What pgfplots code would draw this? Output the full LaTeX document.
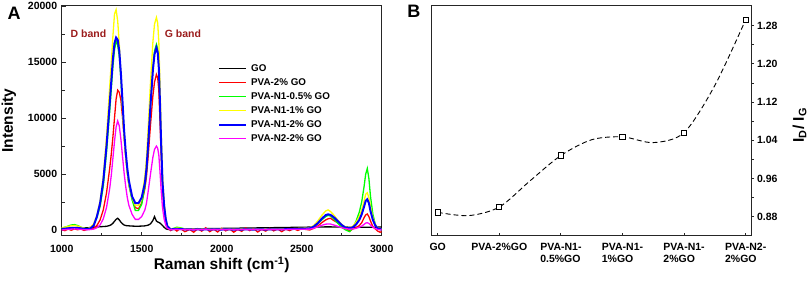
\documentclass[border=0pt]{standalone}
\usepackage{fontspec}
\setmainfont{Liberation Sans}
\usepackage{pgfplots}
\pgfplotsset{compat=1.18}
\usepackage{pgfplotstable}
\definecolor{dred}{HTML}{9B1C1C}
\definecolor{cgreen}{HTML}{00FF00}
\definecolor{cyellow}{HTML}{FFFF00}
\definecolor{cmag}{HTML}{FF00FF}

\pgfplotstableread{
x go p2 n105 n11 n12 n22
1000 150 50 150 200 100 0
1020 140 -60 250 250 120 30
1040 160 80 350 320 150 60
1060 150 -20 450 380 180 80
1080 170 100 480 400 200 100
1100 160 20 400 350 180 80
1120 170 90 250 250 150 60
1140 180 -40 150 150 100 30
1160 200 60 120 100 80 20
1180 220 80 200 250 150 40
1200 250 150 450 550 400 80
1220 270 400 1100 1300 1200 200
1240 290 900 2100 2600 2400 450
1260 310 1800 3900 4800 4400 1000
1280 330 3300 6900 8300 7500 2000
1300 400 5500 10600 12800 11300 3700
1310 480 6800 12600 15000 13300 4900
1320 600 8300 14600 17300 15300 6400
1330 780 10000 16100 19300 16700 7900
1340 950 11700 16900 19700 17200 9200
1350 1050 12500 16500 18700 17000 9750
1360 900 12300 15500 16600 16000 9300
1370 700 11600 13500 13800 14000 8100
1380 550 10100 11000 10700 11500 6600
1390 450 8300 8600 8300 8900 5100
1400 400 6600 6700 6500 7000 3900
1410 380 5200 5200 5100 5500 2900
1420 370 4100 4000 4100 4400 2200
1440 350 2800 2700 2900 3000 1400
1460 340 2000 1750 2200 2400 950
1480 340 1900 1750 2200 2400 950
1500 350 2400 2300 2800 2900 1200
1520 370 3700 3900 4800 4200 1800
1530 400 4800 5300 6400 5500 2400
1540 430 6500 7500 9000 7600 3400
1555 550 9400 11200 13200 11200 5000
1570 850 12000 14500 16800 14300 6500
1580 1200 13200 16000 18400 15700 7200
1592 800 13900 16600 19000 16300 7500
1600 720 13600 16200 18500 15900 7300
1607 680 12500 14800 16800 14500 6700
1614 620 9900 11700 13300 11500 5300
1621 530 6900 8100 9200 8000 3700
1630 400 3700 4300 4900 4300 2000
1640 250 1900 2200 2500 2200 1000
1650 120 850 1000 1100 1000 450
1660 60 300 300 400 350 150
1680 30 -50 80 100 50 30
1700 60 120 150 120 80 50
1720 80 -100 250 180 100 60
1740 90 150 200 150 80 40
1770 100 -150 100 100 60 50
1800 110 50 80 90 50 40
1825 100 -200 60 80 40 30
1850 110 120 80 70 60 50
1875 120 -100 50 90 40 30
1900 120 200 70 80 50 60
1925 130 -150 60 60 40 40
1950 130 80 50 80 60 30
1975 140 -180 60 70 50 50
2000 140 150 70 80 40 40
2025 150 -80 60 70 60 30
2050 150 100 50 80 50 50
2075 160 -200 60 60 40 40
2100 160 50 70 70 50 30
2125 170 -120 50 80 40 50
2150 170 180 60 60 60 40
2175 180 -60 70 80 50 30
2200 180 120 50 70 40 50
2225 190 -180 60 80 60 40
2250 190 60 70 60 50 30
2275 200 -100 60 80 40 50
2300 200 150 50 70 60 40
2325 210 -80 70 90 50 40
2350 210 100 60 80 60 50
2375 220 -150 80 100 60 40
2400 220 80 70 90 70 50
2425 230 -60 90 110 80 60
2450 240 120 80 120 90 60
2475 240 -40 100 140 100 70
2500 250 100 100 160 120 70
2525 250 50 100 170 130 75
2550 260 0 100 200 150 80
2575 260 150 250 400 300 150
2600 270 350 550 800 600 280
2625 270 650 900 1300 1000 420
2650 280 900 1200 1700 1330 520
2665 280 1000 1300 1800 1400 540
2680 280 1050 1250 1650 1350 530
2700 270 850 1000 1350 1150 450
2725 270 650 600 900 800 330
2750 260 400 250 500 450 200
2775 260 150 0 250 200 120
2800 250 -100 -150 200 150 80
2820 250 100 200 350 250 100
2840 250 200 800 700 500 150
2860 250 400 1600 1200 900 250
2875 250 650 2500 1800 1400 350
2890 250 1100 3900 2600 2100 500
2900 250 1350 5000 3200 2600 620
2910 250 1430 5500 3330 2740 650
2920 250 1200 4600 2900 2400 580
2930 250 800 3000 2100 1700 450
2945 250 300 1400 1100 900 250
2960 250 100 500 500 400 120
2975 260 -100 150 200 150 50
2990 270 -200 50 100 80 20
3000 280 -150 0 80 50 0
}\spectra

\begin{document}
\begin{tikzpicture}
\useasboundingbox (-61.7pt,-48.3pt) rectangle (747.3pt,235.7pt);
\begin{axis}[
  at={(0pt,0pt)}, anchor=south west,
  scale only axis, width=320pt, height=230pt,
  xmin=1000, xmax=3000, ymin=-510, ymax=20050,
  xtick={1000,1500,2000,2500,3000},
  ytick={0,5000,10000,15000,20000},
  minor x tick num=1, minor y tick num=1,
  xtick pos=lower, ytick pos=left,
  tick align=inside,
  scaled ticks=false,
  major tick length=4pt, minor tick length=3pt,
  axis line style={line width=1pt, black!85},
  tick style={black!85, line width=0.8pt},
  /pgf/number format/assume math mode=true,
  /pgf/number format/set thousands separator={},
  ticklabel style={font=\fontsize{10.5}{12}\selectfont\bfseries},
  xticklabel style={yshift=-5.5pt},
  yticklabel style={xshift=-1pt},
  xlabel={Raman shift (cm\textsuperscript{-1})},
  ylabel={Intensity},
  label style={font=\fontsize{15.5}{18}\selectfont\bfseries},
  xlabel style={at={(axis description cs:0.5,-0.127)}, anchor=center},
  ylabel style={at={(axis description cs:-0.165,0.5)}, anchor=center},
  legend style={draw=none, fill=none, inner sep=0pt,
    at={(0.4884,0.7465)}, anchor=north west,
    font=\fontsize{9.8}{11}\selectfont\bfseries,
    nodes={inner sep=0pt, text height=7pt, text depth=2pt},
    row sep=5pt, column sep=4pt},
  legend cell align=left,
  legend image code/.code={\draw[#1] (0pt,0pt) -- (27pt,0pt);},
]
\addplot[black, line width=1.3pt] table[x=x, y=go] {\spectra};
\addlegendentry{GO}
\addplot[red, line width=1.3pt] table[x=x, y=p2] {\spectra};
\addlegendentry{PVA-2\% GO}
\addplot[cgreen, line width=1.3pt] table[x=x, y=n105] {\spectra};
\addlegendentry{PVA-N1-0.5\% GO}
\addplot[cyellow, line width=1.3pt] table[x=x, y=n11] {\spectra};
\addlegendentry{PVA-N1-1\% GO}
\addplot[blue, line width=2pt] table[x=x, y=n12] {\spectra};
\addlegendentry{PVA-N1-2\% GO}
\addplot[cmag, line width=1.3pt] table[x=x, y=n22] {\spectra};
\addlegendentry{PVA-N2-2\% GO}
\node[font=\fontsize{10.5}{12}\selectfont\bfseries, text=dred] at (axis cs:1167,17520) {D band};
\node[font=\fontsize{10.5}{12}\selectfont\bfseries, text=dred] at (axis cs:1758,17520) {G band};
\end{axis}

\begin{axis}[
  at={(370pt,0pt)}, anchor=south west,
  scale only axis, width=319.3pt, height=230pt,
  xmin=-0.097, xmax=5.086, ymin=0.840, ymax=1.3217,
  xtick={0,1,2,3,4,5},
  xticklabels={GO, PVA-2\%GO, {PVA-N1-\\0.5\%GO}, {PVA-N1-\\1\%GO}, {PVA-N1-\\2\%GO}, {PVA-N2-\\2\%GO}},
  ytick={0.88,0.96,1.04,1.12,1.20,1.28},
  minor y tick num=1,
  xtick pos=lower, ytick pos=right, yticklabel pos=right,
  tick align=inside,
  major tick length=3pt, minor tick length=3pt,
  ytick style={xshift=3pt},
  axis line style={line width=1pt, black!85},
  tick style={black!85, line width=0.8pt},
  /pgf/number format/assume math mode=true,
  /pgf/number format/.cd, fixed, fixed zerofill, precision=2, /pgfplots/.cd,
  ticklabel style={font=\fontsize{10.5}{12}\selectfont\bfseries},
  xticklabel style={align=left, yshift=-4pt},
  yticklabel style={xshift=2.5pt},
  ylabel={I\textsubscript{D}/ I\textsubscript{G}},
  label style={font=\fontsize{15.5}{18}\selectfont\bfseries},
  ylabel style={at={(axis description cs:1.152,0.48)}, anchor=center},
]
\addplot[black, line width=0.9pt, dash pattern=on 5pt off 3pt, smooth] coordinates {
 (0,0.889) (0.5,0.882) (1,0.900) (1.5,0.955) (2,1.008) (2.5,1.041)
 (3,1.047) (3.5,1.035) (4,1.056) (4.5,1.155) (5,1.2925)};
\addplot[only marks, mark=square*, mark size=2.6pt,
  mark options={fill=white, draw=black, line width=0.8pt, solid}] coordinates {
 (0,0.889) (1,0.900) (2,1.008) (3,1.047) (4,1.056) (5,1.2925)};
\end{axis}
\node[font=\fontsize{18}{20}\selectfont\bfseries, inner sep=0pt] at (-47.5pt,222pt) {A};
\node[font=\fontsize{18}{20}\selectfont\bfseries, inner sep=0pt] at (352.1pt,224.4pt) {B};
\end{tikzpicture}
\end{document}
